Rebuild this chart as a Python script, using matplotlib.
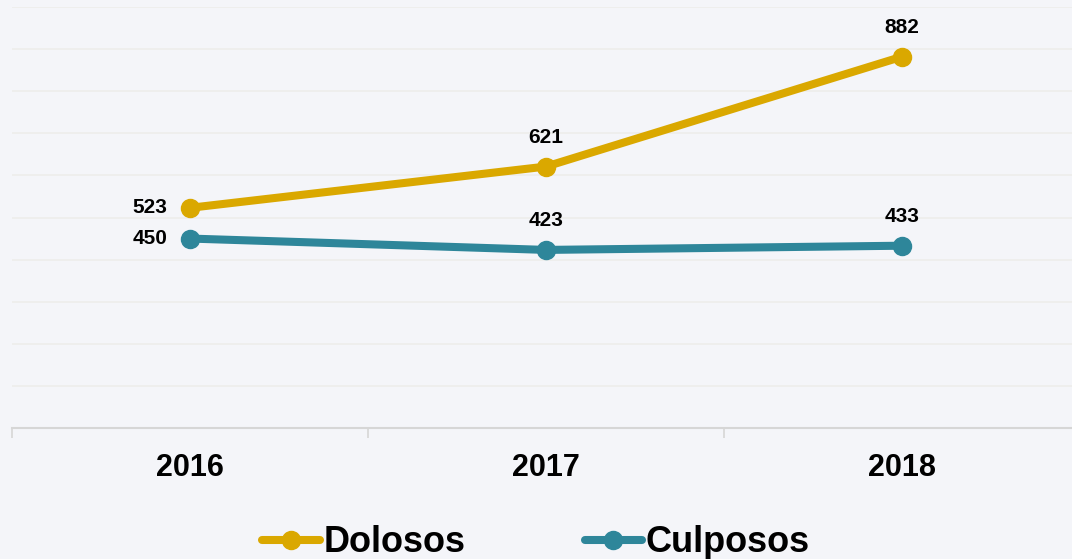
import matplotlib.pyplot as plt

plt.rcParams['font.family'] = ['Liberation Sans', 'DejaVu Sans']

years = ['2016', '2017', '2018']
dolosos = [523, 621, 882]
culposos = [450, 423, 433]

gold = '#DAA800'
teal = '#2E869A'
bg = '#F4F5F9'

fig = plt.figure(figsize=(10.72, 5.59), dpi=100, facecolor=bg)
ax = fig.add_axes([12 / 1072, 131 / 559, 1068 / 1072, 421 / 559])
ax.set_facecolor(bg)

x = range(len(years))
ax.plot(x, dolosos, color=gold, lw=5.8, marker='o', ms=13, label='Dolosos', solid_capstyle='round')
ax.plot(x, culposos, color=teal, lw=5.8, marker='o', ms=13, label='Culposos', solid_capstyle='round')

# data labels: first point to the left, others above
for series in (dolosos, culposos):
    for i, v in enumerate(series):
        if i == 0:
            ax.annotate(str(v), (i, v), xytext=(-16, 0), textcoords='offset points',
                        ha='right', va='center', fontsize=15, fontweight='bold')
        else:
            ax.annotate(str(v), (i, v), xytext=(0, 21), textcoords='offset points',
                        ha='center', va='center', fontsize=15, fontweight='bold')

ax.set_xlim(-0.5, 2.5)
ax.set_ylim(0, 1000)
ax.set_yticks(range(0, 1001, 100))
ax.yaxis.grid(True, color='#EEEEEC', lw=1.3)
ax.set_axisbelow(True)
ax.tick_params(axis='y', left=False, labelleft=False)

ax.set_xticks(list(x))
ax.set_xticklabels(years, fontsize=22, fontweight='bold')
ax.set_xticks([-0.5, 0.5, 1.5, 2.5], minor=True)
ax.tick_params(axis='x', which='major', length=0, pad=18)
ax.tick_params(axis='x', which='minor', length=7, width=1.2, color='#D6D6D6')

for s in ('top', 'right', 'left'):
    ax.spines[s].set_visible(False)
ax.spines['bottom'].set_color('#D6D6D6')
ax.spines['bottom'].set_linewidth(1.5)

fig.legend(loc='center', bbox_to_anchor=(0.5, 16 / 559), ncol=2, frameon=False,
           prop={'size': 26, 'weight': 'bold'}, handlelength=1.6, handletextpad=0.1,
           columnspacing=3.3, borderaxespad=0)

fig.savefig('out.png', dpi=100, facecolor=bg)
